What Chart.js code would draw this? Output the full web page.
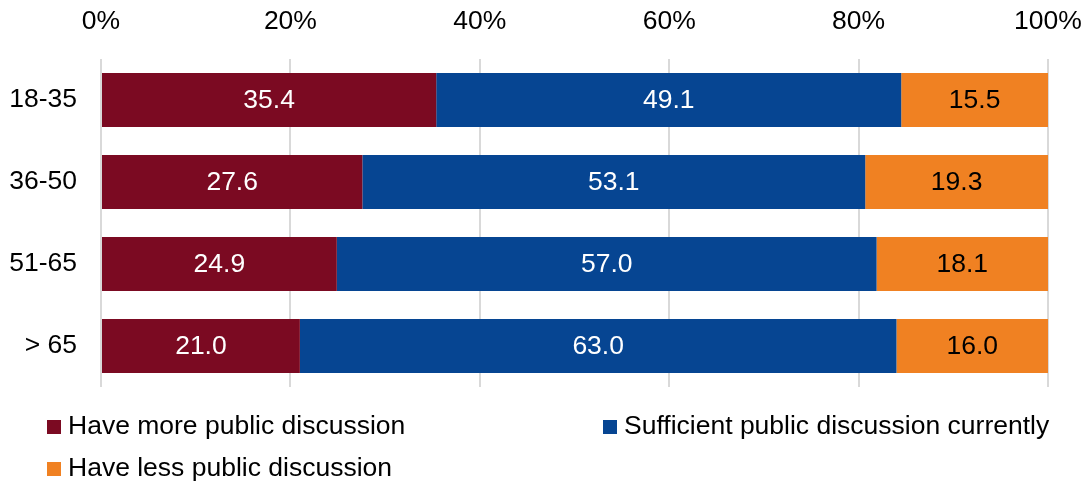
<!DOCTYPE html>
<html>
<head>
<meta charset="utf-8">
<script src="https://cdn.jsdelivr.net/npm/chart.js@4/dist/chart.umd.min.js"></script>
<style>
  body { margin: 0; background: #fff; }
  #wrap { position: relative; width: 1086px; height: 483px; }
  #legend { position: absolute; left: 0; top: 0; width: 1086px; height: 483px; pointer-events: none;
            font-family: "Liberation Sans", Arial, sans-serif; font-size: 26.5px; color: #000; }
  .item { position: absolute; white-space: nowrap; line-height: 30px; }
  .box { display: inline-block; width: 14px; height: 14px; margin-right: 7px; vertical-align: 0px; }
</style>
</head>
<body>
<div id="wrap">
  <canvas id="chart" width="1086" height="483"></canvas>
  <div id="legend"></div>
</div>
<script>
var categories = ['18-35', '36-50', '51-65', '> 65']
var more = [35.4, 27.6, 24.9, 21.0]
var sufficient = [49.1, 53.1, 57.0, 63.0]
var less = [15.5, 19.3, 18.1, 16.0]
var xTicks = [0, 20, 40, 60, 80, 100]

var FONT = '"Liberation Sans", Arial, sans-serif'
var FSIZE = 26.5

// centered value labels inside each segment
var barLabels = {
    id: 'barLabels',
    afterDatasetsDraw(chart) {
        var ctx = chart.ctx
        ctx.save()
        ctx.font = FSIZE + 'px ' + FONT
        ctx.textAlign = 'center'
        ctx.textBaseline = 'middle'
        chart.data.datasets.forEach((ds, i) => {
            chart.getDatasetMeta(i).data.forEach((bar, j) => {
                var p = bar.getProps(['x', 'y', 'base'], true)
                ctx.fillStyle = ds.labelColor
                ctx.fillText(ds.data[j].toFixed(1), (p.x + p.base) / 2, p.y + 1)
            })
        })
        ctx.restore()
    }
}

var chart = new Chart(document.getElementById('chart').getContext('2d'), {
    type: 'bar',
    data: {
        labels: categories,
        datasets: [
            { label: 'Have more public discussion', data: more, backgroundColor: '#7b0a22', labelColor: '#fff' },
            { label: 'Sufficient public discussion currently', data: sufficient, backgroundColor: '#064592', labelColor: '#fff' },
            { label: 'Have less public discussion', data: less, backgroundColor: '#f08122', labelColor: '#000' }
        ]
    },
    options: {
        indexAxis: 'y',
        responsive: false,
        animation: false,
        devicePixelRatio: 1,
        barPercentage: 0.66,
        categoryPercentage: 1,
        layout: { padding: { left: 0, right: 38, top: 0, bottom: 96 } },
        plugins: { legend: { display: false }, tooltip: { enabled: false } },
        scales: {
            x: {
                position: 'top',
                stacked: true,
                min: 0, max: 100,
                afterBuildTicks: (s) => { s.ticks = xTicks.map(v => ({ value: v })) },
                afterFit: (s) => { s.height = 59; s.paddingLeft = 0; s.paddingRight = 0 },
                border: { display: false },
                grid: { color: '#d9d9d9', lineWidth: 2, drawTicks: false },
                ticks: { padding: 21, color: '#000', font: { family: FONT, size: FSIZE }, callback: v => v + '%' }
            },
            y: {
                stacked: true,
                afterFit: (s) => { s.width = 101 },
                border: { display: false },
                grid: { display: false, drawTicks: false },
                ticks: { padding: 24, color: '#000', font: { family: FONT, size: FSIZE } }
            }
        }
    },
    plugins: [barLabels]
})

// legend laid out in two columns like the original
var legendPos = [[47, 410], [603, 410], [47, 452]]
var legend = document.getElementById('legend')
chart.data.datasets.forEach((ds, i) => {
    var d = document.createElement('div')
    d.className = 'item'
    d.style.left = legendPos[i][0] + 'px'
    d.style.top = legendPos[i][1] + 'px'
    d.innerHTML = '<span class="box" style="background:' + ds.backgroundColor + '"></span>' + ds.label
    legend.appendChild(d)
})
</script>
</body>
</html>
